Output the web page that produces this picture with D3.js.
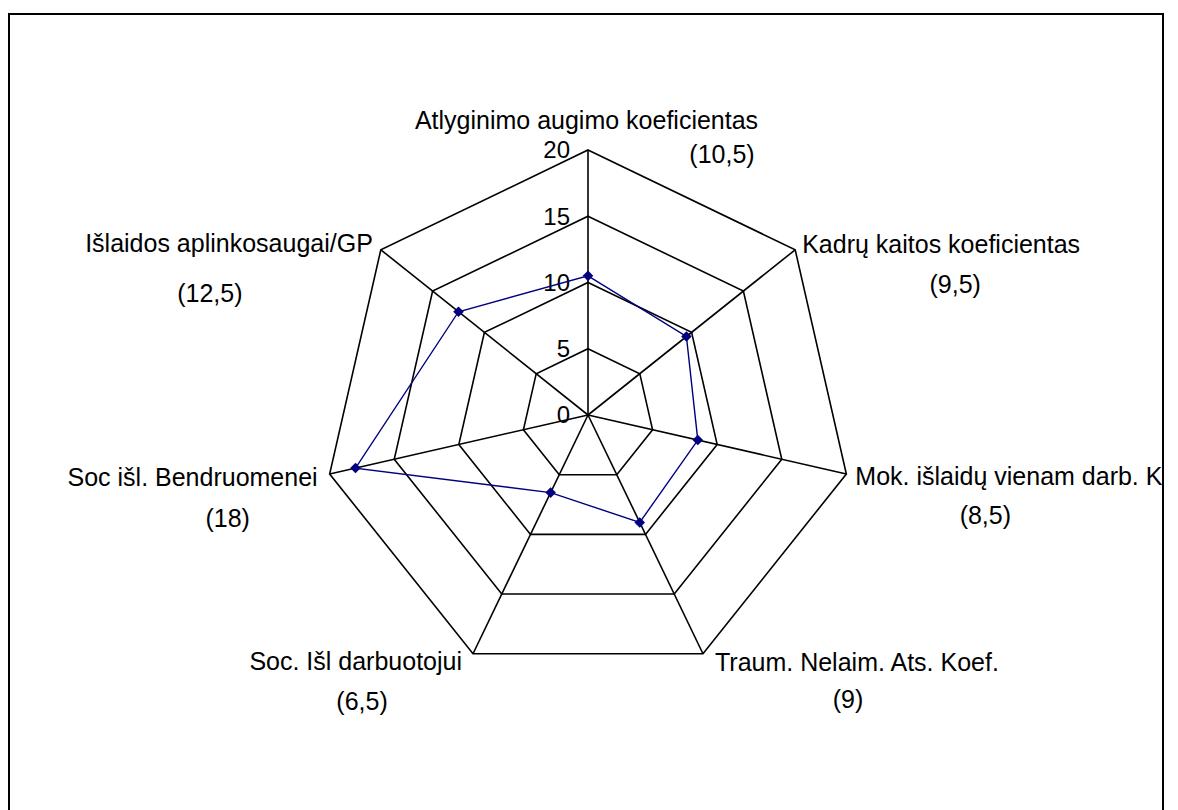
<!DOCTYPE html>
<html>
<head>
<meta charset="utf-8">
<script src="https://cdn.jsdelivr.net/npm/d3@7"></script>
<style>
  body { margin: 0; background: #fff; }
  text { font-family: "Liberation Sans", Arial, sans-serif; fill: #000; }
</style>
</head>
<body>
<svg id="chart" width="1178" height="810"></svg>
<script>
"use strict";

// Data
var categories = [
  "Atlyginimo augimo koeficientas",
  "Kadrų kaitos koeficientas",
  "Mok. išlaidų vienam darb. Koef.",
  "Traum. Nelaim. Ats. Koef.",
  "Soc. Išl darbuotojui",
  "Soc išl. Bendruomenei",
  "Išlaidos aplinkosaugai/GP"
];
var values = [10.5, 9.5, 8.5, 9, 6.5, 18, 12.5];
var valueLabels = ["(10,5)", "(9,5)", "(8,5)", "(9)", "(6,5)", "(18)", "(12,5)"];
var ticks = [0, 5, 10, 15, 20];

// Layout of the labels around each vertex (name: anchor, dx, dy / value: dx, dy)
var nameLayout = [
  {anchor: "middle", dx: -1.5, dy: -21},
  {anchor: "start", dx: 7, dy: 3},
  {anchor: "start", dx: 9, dy: 11},
  {anchor: "start", dx: 12, dy: 17},
  {anchor: "end", dx: -11, dy: 16},
  {anchor: "end", dx: -12, dy: 12},
  {anchor: "end", dx: -8, dy: 2}
];
var valueLayout = [
  {dx: 134, dy: 13},
  {dx: 160, dy: 43},
  {dx: 139, dy: 50},
  {dx: 145, dy: 54},
  {dx: -111, dy: 56},
  {dx: -102, dy: 53},
  {dx: -171, dy: 52}
];

var svg = d3.select("#chart");
var cx = 588, cy = 415, R = 265;
var fontSize = 25;

// Frame
svg.append("defs").append("clipPath").attr("id", "frameClip")
  .append("rect").attr("x", 9).attr("y", 14).attr("width", 1154).attr("height", 820);

svg.append("rect")
  .attr("x", 9).attr("y", 14)
  .attr("width", 1154).attr("height", 820)
  .attr("fill", "#fff")
  .attr("stroke", "#000")
  .attr("stroke-width", 2);

var g = svg.append("g").attr("clip-path", "url(#frameClip)");

var r = d3.scaleLinear().domain([0, 20]).range([0, R]);
var angle = d3.scalePoint().domain(d3.range(categories.length))
  .range([0, 2 * Math.PI * (categories.length - 1) / categories.length]);

function pt(i, v) {
  var a = angle(i);
  return [cx + r(v) * Math.sin(a), cy - r(v) * Math.cos(a)];
}

// Grid polygons
ticks.filter(t => t > 0).forEach(function(t) {
  g.append("path")
    .attr("d", d3.line()(categories.map((c, i) => pt(i, t))) + "Z")
    .attr("fill", "none")
    .attr("stroke", "#000")
    .attr("stroke-width", 1.6);
});

// Spokes
g.selectAll(".spoke")
  .data(categories)
  .enter()
  .append("line")
    .attr("class", "spoke")
    .attr("x1", cx).attr("y1", cy)
    .attr("x2", (d, i) => pt(i, 20)[0])
    .attr("y2", (d, i) => pt(i, 20)[1])
    .attr("stroke", "#000")
    .attr("stroke-width", 1.6);

// Tick labels
g.selectAll(".tick")
  .data(ticks)
  .enter()
  .append("text")
    .attr("class", "tick")
    .attr("x", cx - 18)
    .attr("y", d => cy - r(d))
    .attr("dy", "0.35em")
    .attr("text-anchor", "end")
    .attr("font-size", 24)
    .text(d => d);

// Data line
g.append("path")
  .attr("d", d3.line()(values.map((v, i) => pt(i, v))) + "Z")
  .attr("fill", "none")
  .attr("stroke", "#000080")
  .attr("stroke-width", 1.4);

g.selectAll(".marker")
  .data(values)
  .enter()
  .append("path")
    .attr("class", "marker")
    .attr("d", d3.symbol().type(d3.symbolSquare).size(56))
    .attr("transform", (d, i) => "translate(" + pt(i, d) + ") rotate(45)")
    .attr("fill", "#000080");

// Category labels
g.selectAll(".name")
  .data(categories)
  .enter()
  .append("text")
    .attr("class", "name")
    .attr("x", (d, i) => pt(i, 20)[0] + nameLayout[i].dx)
    .attr("y", (d, i) => pt(i, 20)[1] + nameLayout[i].dy)
    .attr("text-anchor", (d, i) => nameLayout[i].anchor)
    .attr("font-size", fontSize)
    .text(d => d);

g.selectAll(".val")
  .data(valueLabels)
  .enter()
  .append("text")
    .attr("class", "val")
    .attr("x", (d, i) => pt(i, 20)[0] + valueLayout[i].dx)
    .attr("y", (d, i) => pt(i, 20)[1] + valueLayout[i].dy)
    .attr("text-anchor", "middle")
    .attr("font-size", fontSize)
    .text(d => d);
</script>
</body>
</html>
